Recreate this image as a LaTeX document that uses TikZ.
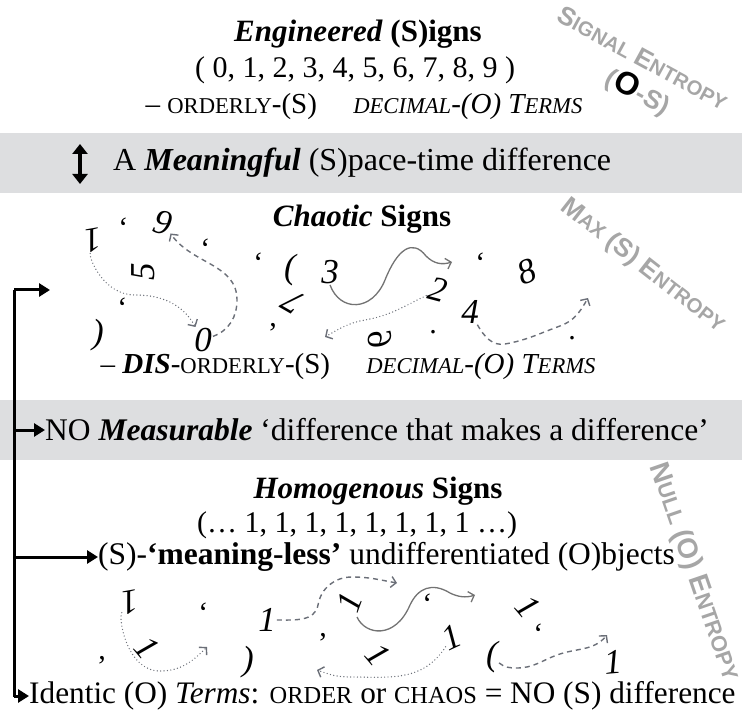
\documentclass[tikz,border=0pt]{standalone}
\usepackage{fontspec}
\setmainfont{Liberation Serif}
\newfontfamily\labelfont{Liberation Sans}
\usetikzlibrary{arrows.meta}

\definecolor{slate}{HTML}{6B6F78}
\definecolor{bandgray}{HTML}{DDDEE0}
\newcommand\smc[1]{\scalebox{0.78}{#1}}

\begin{document}
\begin{tikzpicture}[
	x=1pt, y=-1pt,
	title/.style={ font=\fontsize{31}{33}\selectfont, inner sep=0pt },
	txt/.style={ font=\fontsize{31.5}{33}\selectfont, inner sep=0pt },
	glyph/.style={ font=\itshape\fontsize{35}{35}\selectfont, inner sep=1pt },
	tick/.style={ font=\fontsize{30}{30}\selectfont, inner sep=0pt },
	entropy/.style={ font=\labelfont\bfseries\fontsize{26}{26}\selectfont, text=black!35, inner sep=0pt },
	band/.style={ fill=bandgray },
	dotarrow/.style={ draw=slate, line width=1.4pt, line cap=round, dash pattern=on 0pt off 3.4pt, -{Straight Barb[length=5pt,width=11pt]} },
	dasharrow/.style={ draw=slate, line width=1.4pt, dash pattern=on 5pt off 4pt, -{Straight Barb[length=5pt,width=11pt]} },
	solidarrow/.style={ draw=black!55, line width=1.3pt, -{Straight Barb[length=5pt,width=11pt]} },
	bracket/.style={ line width=3pt },
	bracketarrow/.style={ line width=3pt, -{Triangle[length=11pt,width=13pt]} }
]
\useasboundingbox (0,0) rectangle (742,711);

\fill[band] (0,133) rectangle (742,193);
\fill[band] (0,400) rectangle (742,460);

\node at (358,34) (engineered) [title] {\textbf{\textit{Engineered}} \textbf{(S)igns}};
\node at (355,70) (digits) [txt, font=\fontsize{30}{32}\selectfont] {( 0, 1, 2, 3, 4, 5, 6, 7, 8, 9 )};
\node at (364,107) (orderly) [txt, font=\fontsize{29}{32}\selectfont] {-- \smc{ORDERLY}-(S) \quad \textit{\smc{DECIMAL}-(O) T\smc{ERMS}}};

\node at (643,58) (signal) [entropy, rotate=-28.5] {S\smc{IGNAL} E\smc{NTROPY}};
\node at (638,92) (os) [entropy, rotate=-28.5] {(\textcolor{black}{\fontsize{32}{32}\selectfont O}-S)};

\coordinate (dtop) at (80,144);
\coordinate (dbot) at (80,184);
\draw[line width=4pt, {Triangle[length=10pt,width=15pt]}-{Triangle[length=10pt,width=15pt]}] (dtop) to (dbot);
\node at (113,163) (meaningful) [txt, anchor=west, font=\fontsize{32}{33}\selectfont] {A \textbf{\textit{Meaningful}} (S)pace-time difference};

\node at (362,219) (chaotic) [title] {\textbf{\textit{Chaotic}} \textbf{Signs}};
\node at (643,266) (maxs) [entropy, rotate=-38] {M\smc{AX} (S) E\smc{NTROPY}};

% chaotic signs
\node at (93,240) (c1) [glyph, rotate=190] {1};
\node at (163,223) (c9) [glyph, rotate=-15] {9};
\node at (143,272) (c5) [glyph, rotate=90] {5};
\node at (203,340) (c0) [glyph] {0};
\node at (330,272) (c3) [glyph] {3};
\node at (293,302) (c7) [glyph, rotate=150] {7};
\node at (438,290) (c2) [glyph, rotate=-15] {2};
\node at (527,272) (c8) [glyph, rotate=20] {8};
\node at (470,312) (c4) [glyph] {4};
\node at (380,340) (c6) [glyph, rotate=-90] {\reflectbox{6}};
\node at (98,335) (cp1) [glyph] {)};
\node at (290,270) (cp2) [glyph] {(};
\node at (123,222) (ct1) [tick, rotate=180] {,};
\node at (205,243) (ct2) [tick, rotate=180] {,};
\node at (122,302) (ct3) [tick, rotate=180] {,};
\node at (258,257) (ct4) [tick, rotate=180] {,};
\node at (273,327) (ct5) [tick] {,};
\node at (433,332) (ct6) [tick] {.};
\node at (480,257) (ct7) [tick, rotate=180] {,};
\node at (572,338) (ct8) [tick] {.};

\coordinate (ca1) at (452,262);
\coordinate (ca2) at (325,337);
\coordinate (ca3) at (588,298);
\draw[dotarrow] (c1) to[out=-95,in=180] (135,295) to[out=0,in=120] (c0);
\draw[dasharrow] (c0) to[out=20,in=-90] (237,300) to[out=90,in=-50] (c9);
\draw[solidarrow] (c3.south) .. controls (340,312) and (372,312) .. (385,280) .. controls (397,250) and (412,238) .. (426,256) .. controls (434,264) and (442,265) .. (ca1);
\draw[dotarrow] (c2) to[out=-150,in=10] (365,320) to[out=190,in=30] (ca2);
\draw[dasharrow] (c4) to[out=-60,in=190] (505,344) to[out=10,in=200] (560,326) to[out=20,in=-120] (ca3);

\node at (348,367) (disorderly) [txt, font=\fontsize{29}{32}\selectfont] {-- \textbf{\textit{DIS}}-\smc{ORDERLY}-(S) \quad \textit{\smc{DECIMAL}-(O) T\smc{ERMS}}};

\node at (45,430) (measurable) [txt, anchor=west] {NO \textbf{\textit{Measurable}} `difference that makes a difference'};

\node at (378,491) (homogenous) [title] {\textbf{\textit{Homogenous}} \textbf{Signs}};
\node at (357,525) (ones) [txt, font=\fontsize{30}{32}\selectfont] {(\dots\ 1, 1, 1, 1, 1, 1, 1, 1 \dots)};
\node at (98,557) (meaningless) [txt, anchor=west] {(S)-\textbf{`meaning-less'} undifferentiated (O)bjects};
\node at (694,572) (null) [entropy, rotate=-71, font=\labelfont\bfseries\fontsize{28}{28}\selectfont] {N\smc{ULL} (O) E\smc{NTROPY}};

% homogenous signs
\node at (130,602) (h1) [glyph, rotate=190] {1};
\node at (147,648) (h2) [glyph, rotate=-50] {1};
\node at (267,620) (h3) [glyph] {1};
\node at (350,602) (h4) [glyph, rotate=70] {1};
\node at (452,637) (h5) [glyph, rotate=25] {1};
\node at (378,655) (h6) [glyph, rotate=-50] {1};
\node at (528,607) (h7) [glyph, rotate=-50] {1};
\node at (613,662) (h8) [glyph, rotate=5] {1};
\node at (248,662) (hp1) [glyph] {)};
\node at (492,657) (hp2) [glyph] {(};
\node at (102,660) (ht1) [tick] {,};
\node at (203,607) (ht2) [tick, rotate=180] {,};
\node at (323,637) (ht3) [tick] {,};
\node at (427,598) (ht4) [tick, rotate=180] {,};
\node at (538,628) (ht5) [tick, rotate=180] {,};

\coordinate (ha1) at (207,647);
\coordinate (ha2) at (397,583);
\coordinate (ha3) at (475,595);
\coordinate (ha4) at (317,670);
\coordinate (ha5) at (607,635);
\draw[dotarrow] (h1) to[out=-120,in=180] (160,671) to[out=0,in=-135] (ha1);
\draw[dasharrow] (h3) to[out=0,in=-100] (318,605) to[out=80,in=180] (352,577) to[out=0,in=170] (ha2);
\draw[solidarrow] (357,617) .. controls (365,635) and (395,640) .. (410,605) .. controls (418,588) and (432,582) .. (450,593) .. controls (458,597) and (466,598) .. (ha3);
\draw[dotarrow] (h5) to[out=-130,in=0] (350,677) to[out=180,in=-20] (ha4);
\draw[dasharrow] (hp2) to[out=-40,in=180] (517,668) to[out=0,in=200] (557,655) to[out=20,in=-130] (ha5);

\node at (29,696) (identic) [txt, anchor=west, font=\fontsize{31.3}{33}\selectfont] {Identic (O) \textit{Terms}: \smc{ORDER} or \smc{CHAOS} = NO (S) difference};

% bracket arrows
\coordinate (btop) at (14,290);
\coordinate (bend) at (50,290);
\draw[bracket] (btop) to (14,697);
\draw[bracketarrow] (btop) to (bend);
\draw[bracketarrow] (btop |- measurable.west) to (measurable.west);
\draw[bracketarrow] (btop |- meaningless.west) to (meaningless.west);
\draw[bracketarrow] (btop |- identic.west) to (identic.west);

\end{tikzpicture}
\end{document}
